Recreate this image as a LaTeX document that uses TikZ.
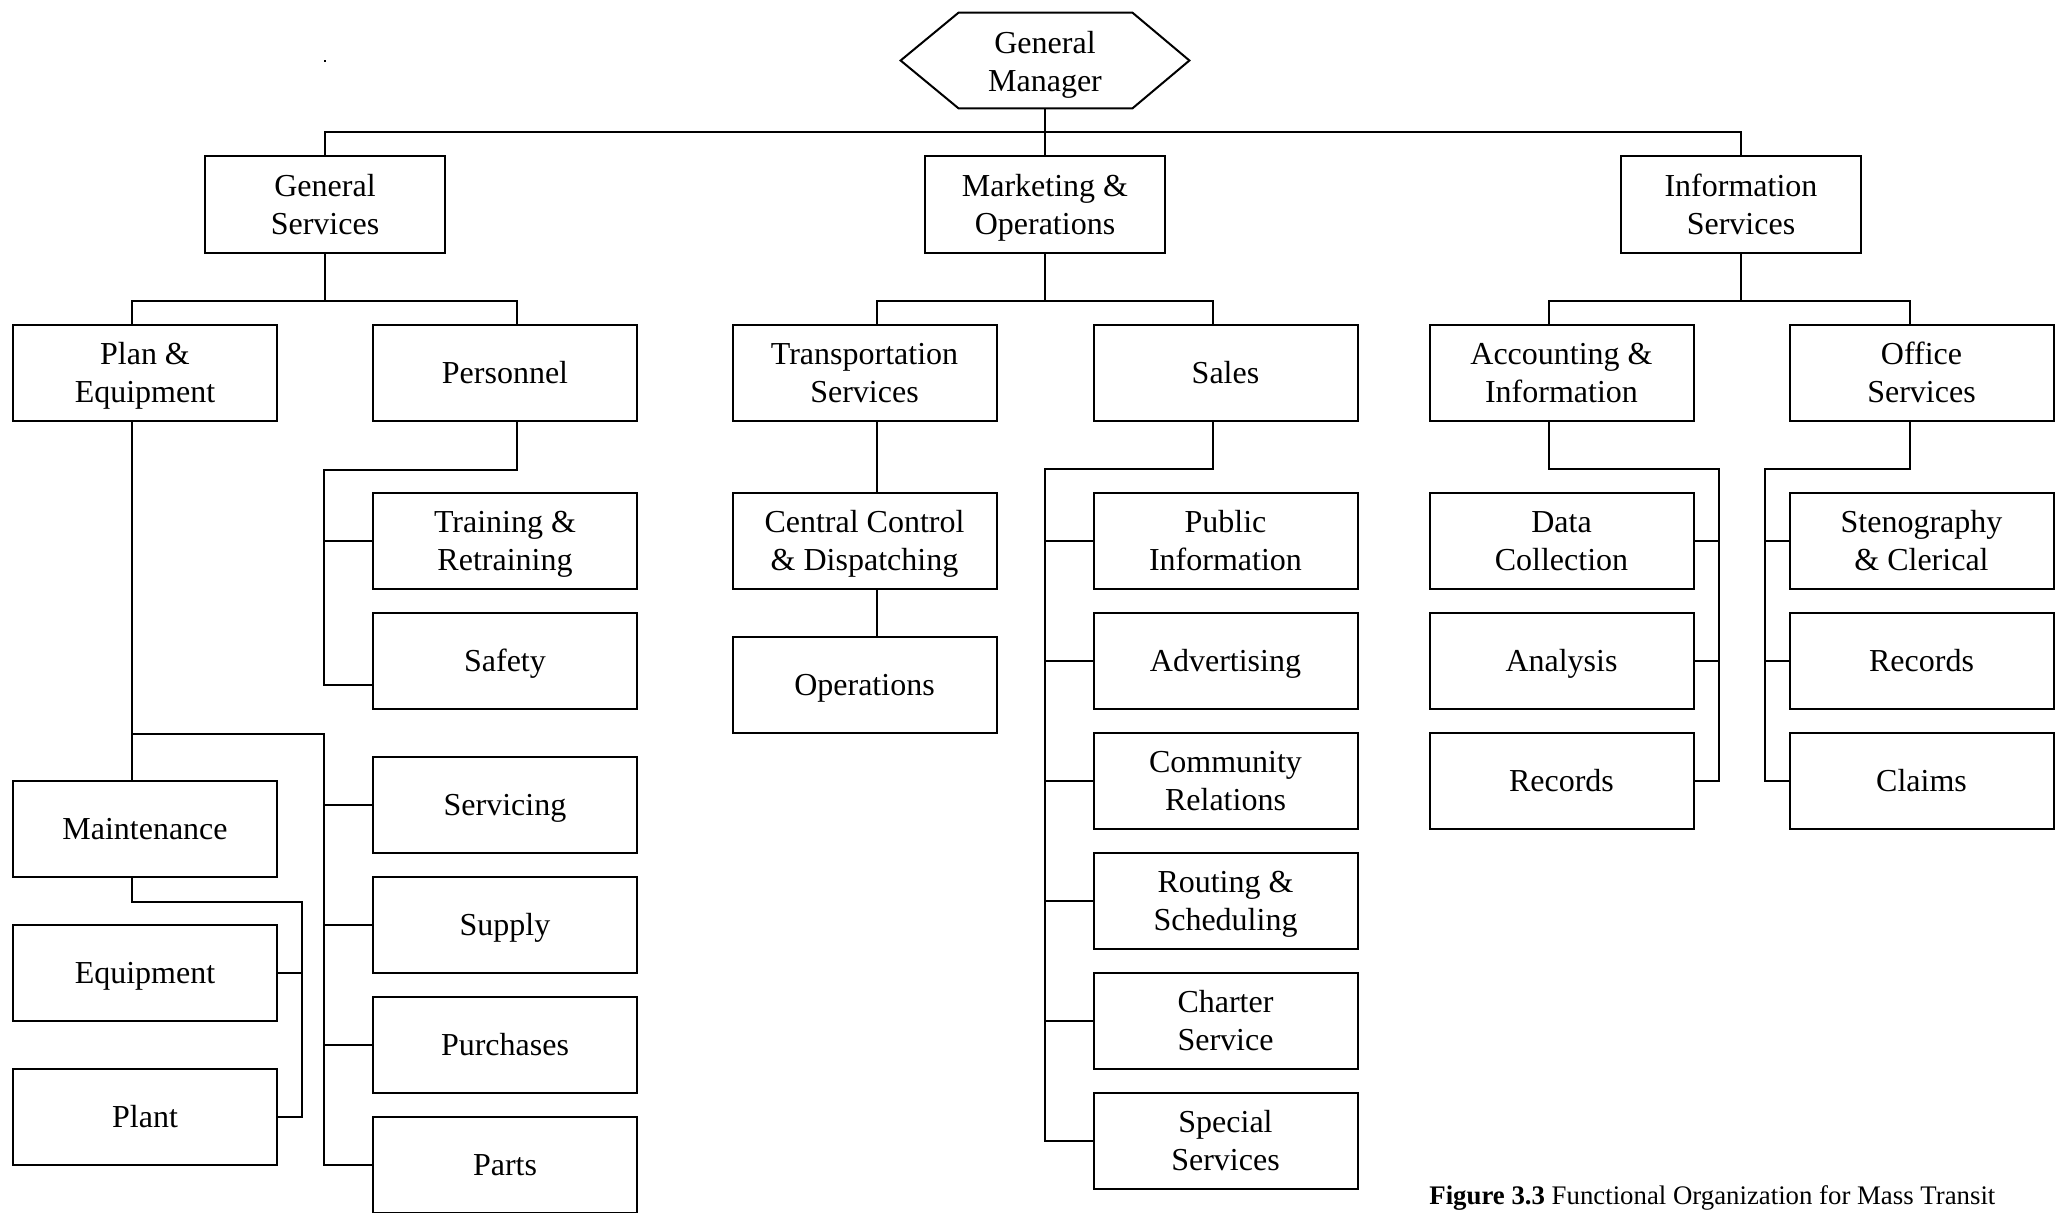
\documentclass[tikz,border=0pt]{standalone}
\usepackage{fontspec}
\setmainfont{Liberation Serif}
\usetikzlibrary{calc}
\newcommand\bxstrut{\rule[-4pt]{0pt}{18.5pt}}
\begin{document}
\begin{tikzpicture}[x=0.5pt,y=-0.5pt,
  txt/.style={inner sep=0pt,align=center,font=\fontsize{16}{19}\selectfont,execute at end node=\bxstrut},
  box/.style={txt,draw,line width=1pt,minimum width=132pt,minimum height=48pt},
  topbox/.style={box,minimum width=120pt,minimum height=48.5pt},
  conn/.style={line width=1pt}]
\useasboundingbox (0,0) rectangle (2058,1212);
\fill (324,60) rectangle (326,62);
% top
\node[inner sep=0pt,minimum width=144pt,minimum height=47.5pt] (gm) at (1045,60.5) {};
\draw[conn] (gm.west) -- ($(gm.north west)+(58,0)$) -- ($(gm.north east)+(-57,0)$) -- (gm.east) -- ($(gm.south east)+(-57,0)$) -- ($(gm.south west)+(58,0)$) -- cycle;
\node[txt] (gmt) at (1045,62) {\bxstrut General\\Manager};
% level 1
\node[topbox] (gs) at (325,204.5) {\bxstrut General\\Services};
\node[topbox] (mo) at (1045,204.5) {\bxstrut Marketing \&\\Operations};
\node[topbox] (is) at (1741,204.5) {\bxstrut Information\\Services};
% level 2
\node[box] (pe) at (145,372.5) {\bxstrut Plan \&\\Equipment};
\node[box] (pers) at (505,372.5) {\bxstrut Personnel};
\node[box] (ts) at (864.5,372.5) {\bxstrut Transportation\\Services};
\node[box] (sales) at (1225.5,372.5) {\bxstrut Sales};
\node[box] (ai) at (1561.5,372.5) {\bxstrut Accounting \&\\Information};
\node[box] (os) at (1921.5,372.5) {\bxstrut Office\\Services};
% level 3
\node[box] (train) at (505,541) {\bxstrut Training \&\\Retraining};
\node[box] (safety) at (505,661) {\bxstrut Safety};
\node[box] (serv) at (505,805) {\bxstrut Servicing};
\node[box] (supply) at (505,925) {\bxstrut Supply};
\node[box] (purch) at (505,1045) {\bxstrut Purchases};
\node[box] (parts) at (505,1165) {\bxstrut Parts};
\node[box] (mt) at (145,829) {\bxstrut Maintenance};
\node[box] (equip) at (145,973) {\bxstrut Equipment};
\node[box] (plant) at (145,1117) {\bxstrut Plant};
\node[box] (cc) at (864.5,541) {\bxstrut Central Control\\\& Dispatching};
\node[box] (ops) at (864.5,685) {\bxstrut Operations};
\node[box] (pub) at (1225.5,541) {\bxstrut Public\\Information};
\node[box] (adv) at (1225.5,661) {\bxstrut Advertising};
\node[box] (comm) at (1225.5,781) {\bxstrut Community\\Relations};
\node[box] (rout) at (1225.5,901) {\bxstrut Routing \&\\Scheduling};
\node[box] (chart) at (1225.5,1021) {\bxstrut Charter\\Service};
\node[box] (spec) at (1225.5,1141) {\bxstrut Special\\Services};
\node[box] (dc) at (1561.5,541) {\bxstrut Data\\Collection};
\node[box] (an) at (1561.5,661) {\bxstrut Analysis};
\node[box] (rec1) at (1561.5,781) {\bxstrut Records};
\node[box] (steno) at (1921.5,541) {\bxstrut Stenography\\\& Clerical};
\node[box] (rec2) at (1921.5,661) {\bxstrut Records};
\node[box] (claims) at (1921.5,781) {\bxstrut Claims};
% caption
\node[anchor=base west,inner sep=0pt,font=\fontsize{13.4}{15}\selectfont] (cap) at (1429,1204) {\textbf{Figure 3.3} Functional Organization for Mass Transit};
% connectors top
\draw[conn] (gm.south) -- (mo.north);
\draw[conn] (gs.north) -- ++(0,-23) -| (is.north);
% level 1 -> 2
\draw[conn] (gs.south) -- ++(0,48);
\draw[conn] ($(pe.north)+(-13,0)$) |- ($(pers.north)+(12,-23)$) -- ($(pers.north)+(12,0)$);
\draw[conn] (mo.south) -- ++(0,48);
\draw[conn] ($(ts.north)+(12.5,0)$) |- ($(sales.north)+(-12.5,-23)$) -- ($(sales.north)+(-12.5,0)$);
\draw[conn] (is.south) -- ++(0,48);
\draw[conn] ($(ai.north)+(-12.5,0)$) |- ($(os.north)+(-11.5,-23)$) -- ($(os.north)+(-11.5,0)$);
% personnel
\draw[conn] ($(pers.south)+(12,0)$) -- ++(0,48) -| ($(safety.west)+(-48,24)$) -- ($(safety.west)+(0,24)$);
\draw[conn] (train.west) -- ++(-48,0);
% plan & equipment
\draw[conn] ($(pe.south)+(-13,0)$) -- ($(mt.north)+(-13,0)$);
\draw[conn] ($(pe.south)+(-13,312)$) -| ($(parts.west)+(-48,0)$) -- (parts.west);
\foreach \n in {serv,supply,purch} \draw[conn] (\n.west) -- ++(-48,0);
\draw[conn] ($(mt.south)+(-13,0)$) -- ++(0,24) -| ($(plant.east)+(24,0)$) -- (plant.east);
\draw[conn] (equip.east) -- ++(24,0);
% transportation
\draw[conn] ($(ts.south)+(12.5,0)$) -- ($(cc.north)+(12.5,0)$);
\draw[conn] ($(cc.south)+(12.5,0)$) -- ($(ops.north)+(12.5,0)$);
% sales
\draw[conn] ($(sales.south)+(-12.5,0)$) -- ++(0,47) -| ($(spec.west)+(-48,0)$) -- (spec.west);
\foreach \n in {pub,adv,comm,rout,chart} \draw[conn] (\n.west) -- ++(-48,0);
% accounting
\draw[conn] ($(ai.south)+(-12.5,0)$) -- ++(0,47) -| ($(rec1.east)+(24,0)$) -- (rec1.east);
\foreach \n in {dc,an} \draw[conn] (\n.east) -- ++(24,0);
% office
\draw[conn] ($(os.south)+(-11.5,0)$) -- ++(0,47) -| ($(claims.west)+(-24,0)$) -- (claims.west);
\foreach \n in {steno,rec2} \draw[conn] (\n.west) -- ++(-24,0);
\end{tikzpicture}
\end{document}
